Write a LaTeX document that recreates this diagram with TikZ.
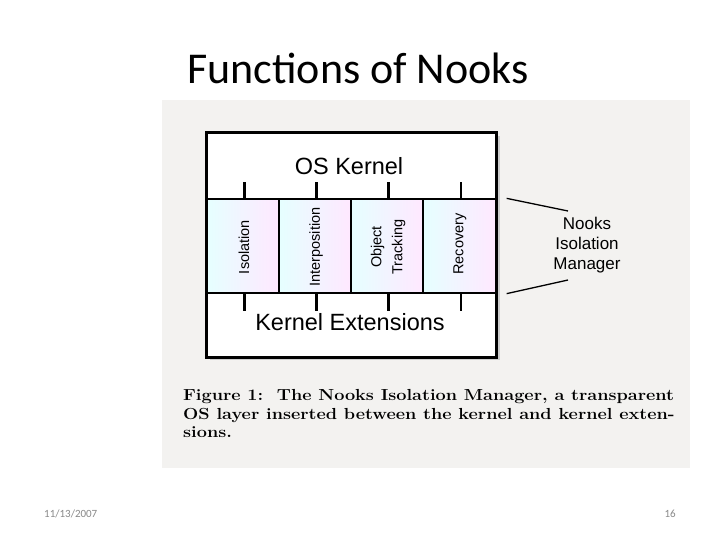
\documentclass[tikz,border=0pt]{standalone}
\usepackage{fontspec}
\newfontfamily\arialf{Liberation Sans}
\newfontfamily\calib{Carlito}
\definecolor{scanbg}{RGB}{243,242,240}
\definecolor{footgray}{RGB}{137,137,137}
\tikzset{
  layerbox/.style={draw=black, line width=1.6pt, fill=white, minimum width=289pt, inner sep=0pt},
  colbox/.style={draw=black, line width=1.3pt, minimum width=72pt, minimum height=94pt, inner sep=0pt,
    left color=cyan!10!white, middle color=yellow!18!white, right color=magenta!9!white},
  ticky/.style={line width=2.6pt},
  leader/.style={line width=1.3pt},
  bigtxt/.style={font=\arialf\fontsize{23.5}{27}\selectfont, inner sep=0pt},
  coltxt/.style={font=\arialf\fontsize{14.5}{21}\selectfont, rotate=90, align=center, inner sep=0pt},
  mgrtxt/.style={font=\arialf\fontsize{17}{20}\selectfont, align=center, inner sep=0pt},
  captxt/.style={font=\bfseries\fontsize{16}{18}\selectfont, anchor=base west, inner sep=0pt},
  foot/.style={font=\calib\fontsize{11}{13}\selectfont, text=footgray, inner sep=0pt}
}
\begin{document}
\begin{tikzpicture}[x=1pt,y=-1pt]
\useasboundingbox (0,0) rectangle (720,540);
\fill[white] (0,0) rectangle (720,540);
% scanned page area
\fill[scanbg] (162,100) rectangle (690,468);
% title
\node[font=\calib\fontsize{44}{50}\selectfont, inner sep=0pt] (title) at (358,68) {Functions of Nooks};
% shadow
\fill[gray!40] (210,136) rectangle (500,360);
% layers
\node[layerbox, minimum height=66pt] (kern) at (351.5,166) {};
\node[layerbox, minimum height=64pt] (ext) at (351.5,325) {};
\node[colbox] (c1) at (243,246) {};
\node[colbox] (c2) at (315,246) {};
\node[colbox] (c3) at (387,246) {};
\node[colbox, minimum width=73pt] (c4) at (459.5,246) {};
\draw[line width=1.6pt] (kern.north west) rectangle (ext.south east);
% labels
\node[bigtxt] (oskl) at (349,166) {OS Kernel};
\node[bigtxt] (extl) at (350,322) {Kernel Extensions};
\node[coltxt] (l1) at (244,247) {Isolation};
\node[coltxt] (l2) at (316,247) {Interposition};
\node[coltxt] (l3) at (388,247) {Object\\Tracking};
\node[coltxt] (l4) at (460,244) {Recovery};
% ticks
\foreach \c in {c1,c2,c3,c4}{
  \draw[ticky] ([xshift=1.5pt]\c.north) -- ++(0,-16);
  \draw[ticky] ([xshift=1.5pt]\c.south) -- ++(0,17);
}
% manager label and leaders
\node[mgrtxt] (mgr) at (587,245) {Nooks\\Isolation\\Manager};
\coordinate (ua) at ([xshift=10pt]c4.north east);
\coordinate (ub) at (568,211);
\coordinate (la) at ([xshift=10pt]c4.south east);
\coordinate (lb) at (568,280);
\draw[leader] (ua) -- (ub);
\draw[leader] (la) -- (lb);
% caption
\node[captxt] (cap1) at (183,400) {\scalebox{1.13}[1]{Figure 1:\ \ The Nooks Isolation Manager, a transparent}};
\node[captxt] (cap2) at (183,419) {\scalebox{1.13}[1]{OS layer inserted between the kernel and kernel exten-}};
\node[captxt] (cap3) at (183,437) {\scalebox{1.13}[1]{sions.}};
% footer
\node[foot, anchor=west] (date) at (44,514) {11/13/2007};
\node[foot, anchor=east] (page) at (676,514) {16};
\end{tikzpicture}
\end{document}
